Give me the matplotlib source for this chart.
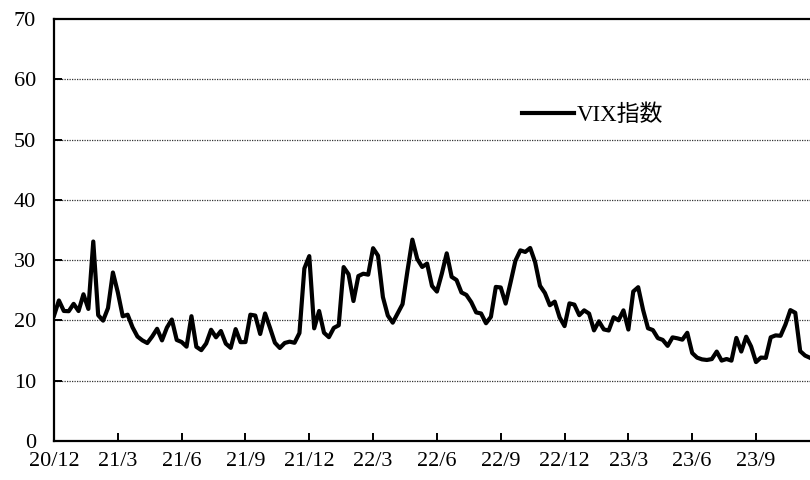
import numpy as np
import matplotlib
matplotlib.use('Agg')
import matplotlib.pyplot as plt

plt.rcParams['font.family'] = ['Liberation Serif', 'Noto Sans CJK JP']

# weekly VIX closes, 2020/12/4 - 2023/11/17
vix = [
    20.79, 23.31, 21.57, 21.53, 22.75,
    21.56, 24.34, 21.91, 33.09,
    20.87, 19.97, 22.05, 27.95,
    24.66, 20.69, 20.95, 18.86,
    17.33, 16.69, 16.25, 17.33, 18.61,
    16.69, 18.81, 20.15, 16.76,
    16.42, 15.65, 20.70, 15.62,
    15.07, 16.18, 18.45, 17.20, 18.24,
    16.15, 15.45, 18.56, 16.39,
    16.41, 20.95, 20.81, 17.75,
    21.15, 18.77, 16.30, 15.43, 16.26,
    16.48, 16.29, 17.91, 28.62,
    30.67, 18.69, 21.57, 17.96, 17.22,
    18.76, 19.19, 28.85, 27.66,
    23.22, 27.36, 27.75, 27.59,
    31.98, 30.75, 23.87, 20.81,
    19.63, 21.16, 22.70, 28.21, 33.40,
    30.19, 28.87, 29.43, 25.72,
    24.79, 27.75, 31.13, 27.23,
    26.70, 24.64, 24.23, 23.03, 21.33,
    21.15, 19.53, 20.60, 25.56,
    25.47, 22.79, 26.30, 29.92, 31.62,
    31.36, 32.02, 29.69, 25.75,
    24.55, 22.52, 23.12, 20.50,
    19.06, 22.83, 22.62, 20.87, 21.67,
    21.13, 18.35, 19.85, 18.51,
    18.33, 20.53, 20.02, 21.67,
    18.49, 24.80, 25.51, 21.74, 18.70,
    18.40, 17.07, 16.77, 15.78,
    17.19, 17.03, 16.81, 17.95,
    14.60, 13.83, 13.54, 13.44, 13.59,
    14.83, 13.34, 13.60, 13.33,
    17.10, 14.84, 17.30, 15.68,
    13.09, 13.84, 13.79, 17.20, 17.52,
    17.45, 19.32, 21.71, 21.27,
    14.91, 14.17, 13.80,
]
tick_labels = ['20/12', '21/3', '21/6', '21/9', '21/12', '22/3',
               '22/6', '22/9', '22/12', '23/3', '23/6', '23/9']
tick_pos = [0, 13, 26, 39, 52, 65, 78, 91, 104, 117, 130, 143]

x = np.arange(len(vix))

fig = plt.figure(figsize=(8.1, 4.8), dpi=100)
ax = fig.add_axes([54 / 810, 39 / 480, 1 - 54 / 810, 422 / 480])

ax.plot(x, vix, color='black', linewidth=3.0, label='VIX指数')

ax.set_xlim(0, len(vix) - 1)
ax.set_ylim(0, 70)
ax.set_yticks(range(0, 71, 10))
ax.set_xticks(tick_pos)
ax.set_xticklabels(tick_labels)

for v in range(10, 70, 10):
    ax.axhline(v, color='#333333', linewidth=0.9, linestyle=(0, (1, 1)), zorder=0)

for s in ['left', 'bottom', 'top']:
    ax.spines[s].set_linewidth(1.6)
ax.spines['right'].set_visible(False)

ax.tick_params(axis='both', direction='in', length=6, width=1.4, labelsize=16)
ax.tick_params(axis='y', pad=13)
ax.tick_params(axis='x', pad=8)

ax.legend(loc='center', bbox_to_anchor=(0.712, 0.772), frameon=False,
          fontsize=16.5, handlelength=2.3, handletextpad=0.1)

fig.savefig('out.png', dpi=100)
